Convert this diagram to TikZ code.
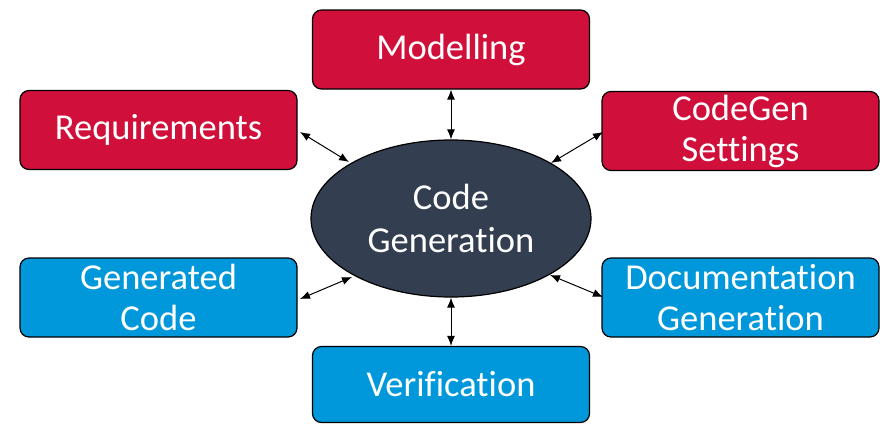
\documentclass[tikz,border=0pt]{standalone}
\usepackage{fontspec}
\setmainfont[Ligatures={NoCommon}]{Carlito}
\usetikzlibrary{arrows.meta,shapes.geometric}
\definecolor{boxred}{RGB}{208,16,58}
\definecolor{boxblue}{RGB}{0,152,218}
\definecolor{ovaldark}{RGB}{51,63,80}
\begin{document}
\begin{tikzpicture}[x=1pt,y=-1pt,
  box/.style={draw=black,line width=1.2pt,rounded corners=9pt,minimum width=277pt,minimum height=79pt,
    text=white,align=center,font=\fontsize{36.5}{41}\selectfont,inner sep=0pt},
  redbox/.style={box,fill=boxred},
  bluebox/.style={box,fill=boxblue},
  link/.style={black,line width=1pt,{Latex[length=10pt,width=8pt]}-{Latex[length=10pt,width=8pt]}}]
\useasboundingbox (0,0) rectangle (880,423);
\node[redbox] (mod) at (451,49.5) {Modelling};
\node[redbox] (req) at (158.5,130) {Requirements};
\node[redbox] (cgs) at (740.5,131) {CodeGen\\Settings};
\node[bluebox] (gen) at (158.5,297.5) {Generated\\Code};
\node[bluebox] (doc) at (740.5,297.5) {Documentation\\Generation};
\node[bluebox,minimum height=76pt] (ver) at (451,384.5) {Verification};
\node[ellipse,draw=black,line width=1.2pt,fill=ovaldark,minimum width=280pt,minimum height=157pt,inner sep=0pt,
  text=white,align=center,font=\fontsize{36.5}{43}\selectfont] (cg) at (451,218.5) {Code\\Generation};
\coordinate (a1) at (300,132); \coordinate (b1) at (349,162);
\coordinate (a2) at (603,132); \coordinate (b2) at (551,163);
\coordinate (a3) at (300,299); \coordinate (b3) at (352,277);
\coordinate (a4) at (603,297); \coordinate (b4) at (550,275);
\draw[link] (mod.south) -- (cg.north);
\draw[link] (cg.south) -- (ver.north);
\draw[link] (a1) -- (b1);
\draw[link] (a2) -- (b2);
\draw[link] (a3) -- (b3);
\draw[link] (a4) -- (b4);
\end{tikzpicture}
\end{document}
